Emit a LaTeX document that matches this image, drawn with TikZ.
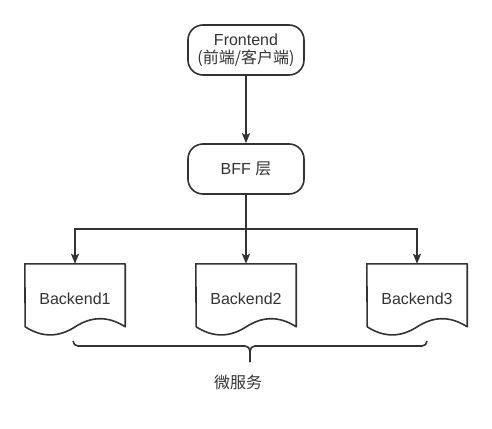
\documentclass[tikz,border=0pt]{standalone}
\usepackage{fontspec}
\setmainfont{Liberation Sans}
\newfontfamily\cjk{Noto Sans CJK SC}
\usetikzlibrary{arrows.meta}
\definecolor{ink}{HTML}{333333}
\begin{document}
\begin{tikzpicture}[x=1pt,y=-1pt,
  line/.style={draw=ink,line width=1.6pt},
  arr/.style={line,-{Stealth[length=10pt,width=8pt,inset=2pt]}},
  termbox/.style={line,fill=white,rounded corners=15pt,minimum width=116pt,minimum height=50pt,inner sep=0pt,align=center,text=ink,font=\fontsize{16}{18}\selectfont},
  docbox/.style={minimum width=100pt,minimum height=72pt,inner sep=0pt,text=ink,font=\fontsize{16}{18}\selectfont},
  lbl/.style={text=ink,font=\fontsize{16}{18}\selectfont\cjk}]
\useasboundingbox (0,0) rectangle (492,428);
\node[termbox] (fe) at (246,50) {Frontend\\{\cjk (前端/客户端)}};
\node[termbox] (bff) at (246,169) {BFF {\cjk 层}};
\node[docbox] (b1) at (75,300) {\raisebox{3pt}{Backend1}};
\node[docbox] (b2) at (246,300) {\raisebox{3pt}{Backend2}};
\node[docbox] (b3) at (417,300) {\raisebox{3pt}{Backend3}};
\foreach \n in {b1,b2,b3}{
  \draw[line,line join=round] (\n.north west) -- (\n.north east) -- ++(0,63)
    .. controls +(-16.67,-10.8) and +(16.67,-10.8) .. ++(-50,0)
    .. controls +(-16.67,10.8) and +(16.67,10.8) .. ++(-50,0) -- cycle;
}
\coordinate (j) at (246,229);
\draw[arr] (fe) -- (bff);
\draw[line] (bff.south) -- (j);
\draw[arr] (j) -| (b1.north);
\draw[arr] (j) -- (b2.north);
\draw[arr] (j) -| (b3.north);
\coordinate (bl) at (73,341);
\coordinate (br) at (427,341);
\coordinate (bt) at (250,362);
\draw[line,rounded corners=5pt] (bl) -- (73,346) -- (250,346) -- (bt);
\draw[line,rounded corners=5pt] (bt) -- (250,346) -- (427,346) -- (br);
\node[lbl] (ms) at (238,382) {微服务};
\end{tikzpicture}
\end{document}
